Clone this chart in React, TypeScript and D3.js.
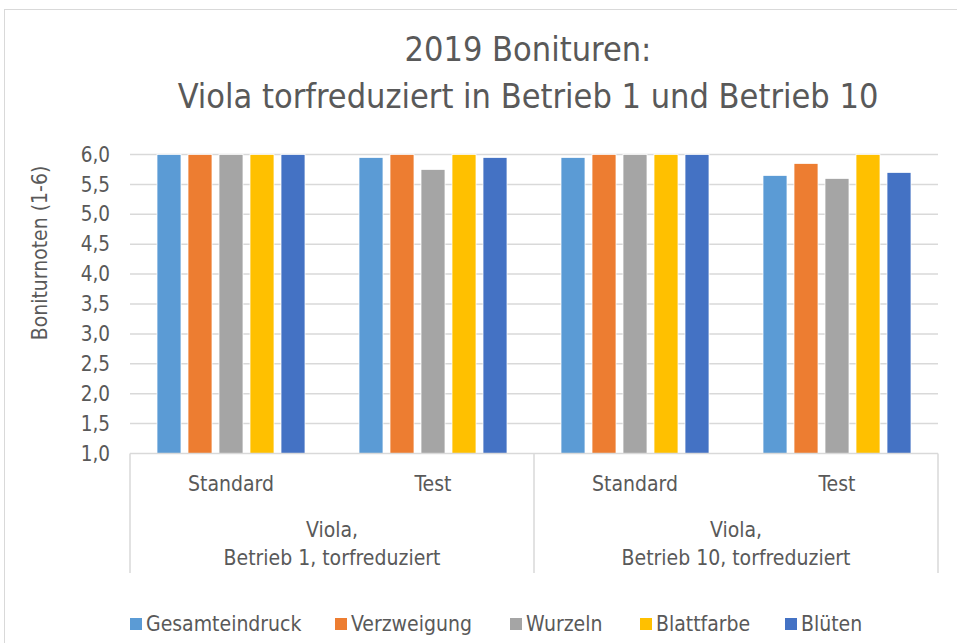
import * as d3 from "d3";

const groups = ["Viola,|Betrieb 1, torfreduziert", "Viola,|Betrieb 10, torfreduziert"];
const categories = ["Standard", "Test", "Standard", "Test"];
const categoryGroup = [0, 0, 1, 1];
const seriesNames = ["Gesamteindruck", "Verzweigung", "Wurzeln", "Blattfarbe", "Blüten"];
const seriesColors = ["#5b9bd5", "#ed7d31", "#a5a5a5", "#ffc000", "#4472c4"];
const gesamteindruck = [6.0, 5.95, 5.95, 5.65];
const verzweigung = [6.0, 6.0, 6.0, 5.85];
const wurzeln = [6.0, 5.75, 6.0, 5.6];
const blattfarbe = [6.0, 6.0, 6.0, 6.0];
const blueten = [6.0, 5.95, 6.0, 5.7];
const yTicks = [1, 1.5, 2, 2.5, 3, 3.5, 4, 4.5, 5, 5.5, 6];

const values = [gesamteindruck, verzweigung, wurzeln, blattfarbe, blueten];

const W = 957;
const H = 643;
const left = 130;
const right = 938;
const top = 154.5;
const bottom = 453.5;
const font = "'DejaVu Sans Condensed', 'Liberation Sans Narrow', Arial, sans-serif";
const textColor = "#595959";
const gridColor = "#d9d9d9";

export default function App() {
  const x = d3
    .scaleBand<number>()
    .domain(categories.map((_, i) => i))
    .range([left, right])
    .padding(0);
  const xInner = d3
    .scaleBand<number>()
    .domain(seriesNames.map((_, i) => i))
    .range([0, x.bandwidth()])
    .paddingInner(0.226)
    .paddingOuter(0.871);
  const y = d3.scaleLinear().domain([1, 6]).range([bottom, top]);
  const fmt = (v: number) => d3.format(".1f")(v).replace(".", ",");

  const groupWidth = (right - left) / groups.length;
  const legendX = [130, 335, 510, 640, 785];

  return (
    <svg width={W} height={H} style={{ position: "absolute", left: 0, top: 0 }}>
      <rect x={0} y={0} width={W} height={H} fill="#fff" />
      <rect x={4.5} y={9.5} width={W + 10} height={H + 10} fill="none" stroke={gridColor} />

      <text x={528} y={61} textAnchor="middle" fontFamily={font} fontSize={34} fill={textColor}>
        2019 Bonituren:
      </text>
      <text x={528} y={108} textAnchor="middle" fontFamily={font} fontSize={34} fill={textColor}>
        Viola torfreduziert in Betrieb 1 und Betrieb 10
      </text>

      {yTicks.map((t) => (
        <g key={t}>
          {t > 1 && (
            <line x1={left} x2={right} y1={y(t)} y2={y(t)} stroke={gridColor} strokeWidth={1.5} />
          )}
          <text x={110} y={y(t)} dy="0.35em" textAnchor="end" fontFamily={font} fontSize={20.5} fill={textColor}>
            {fmt(t)}
          </text>
        </g>
      ))}

      <text
        transform={`translate(47,253) rotate(-90)`}
        textAnchor="middle"
        fontFamily={font}
        fontSize={21}
        fill={textColor}
      >
        Boniturnoten (1-6)
      </text>

      {values.map((series, s) =>
        series.map((v, c) => (
          <rect
            key={`${s}-${c}`}
            x={(x(c) ?? 0) + (xInner(s) ?? 0)}
            y={y(v)}
            width={xInner.bandwidth()}
            height={y(1) - y(v)}
            fill={seriesColors[s]}
            stroke="#fff"
            strokeWidth={0.75}
          />
        ))
      )}

      <line x1={left} x2={right} y1={bottom} y2={bottom} stroke={gridColor} strokeWidth={1.5} />
      {d3.range(groups.length + 1).map((g) => (
        <line
          key={g}
          x1={left + g * groupWidth}
          x2={left + g * groupWidth}
          y1={bottom}
          y2={573}
          stroke={gridColor}
          strokeWidth={1.5}
        />
      ))}

      {categories.map((c, i) => (
        <text
          key={i}
          x={(x(i) ?? 0) + x.bandwidth() / 2}
          y={491}
          textAnchor="middle"
          fontFamily={font}
          fontSize={21}
          fill={textColor}
        >
          {c}
        </text>
      ))}

      {groups.map((g, gi) => {
        const idx = categoryGroup
          .map((cg, i) => (cg === gi ? i : -1))
          .filter((i) => i >= 0);
        const cx = ((x(idx[0]) ?? 0) + (x(idx[idx.length - 1]) ?? 0) + x.bandwidth()) / 2;
        return g.split("|").map((line, li) => (
          <text
            key={`${gi}-${li}`}
            x={cx}
            y={537 + li * 28}
            textAnchor="middle"
            fontFamily={font}
            fontSize={21}
            fill={textColor}
          >
            {line}
          </text>
        ));
      })}

      {seriesNames.map((n, i) => (
        <g key={n} transform={`translate(${legendX[i]},624)`}>
          <rect x={0} y={-6} width={12} height={12} fill={seriesColors[i]} />
          <text x={16} y={0} dy="0.35em" fontFamily={font} fontSize={21} fill={textColor}>
            {n}
          </text>
        </g>
      ))}
    </svg>
  );
}
